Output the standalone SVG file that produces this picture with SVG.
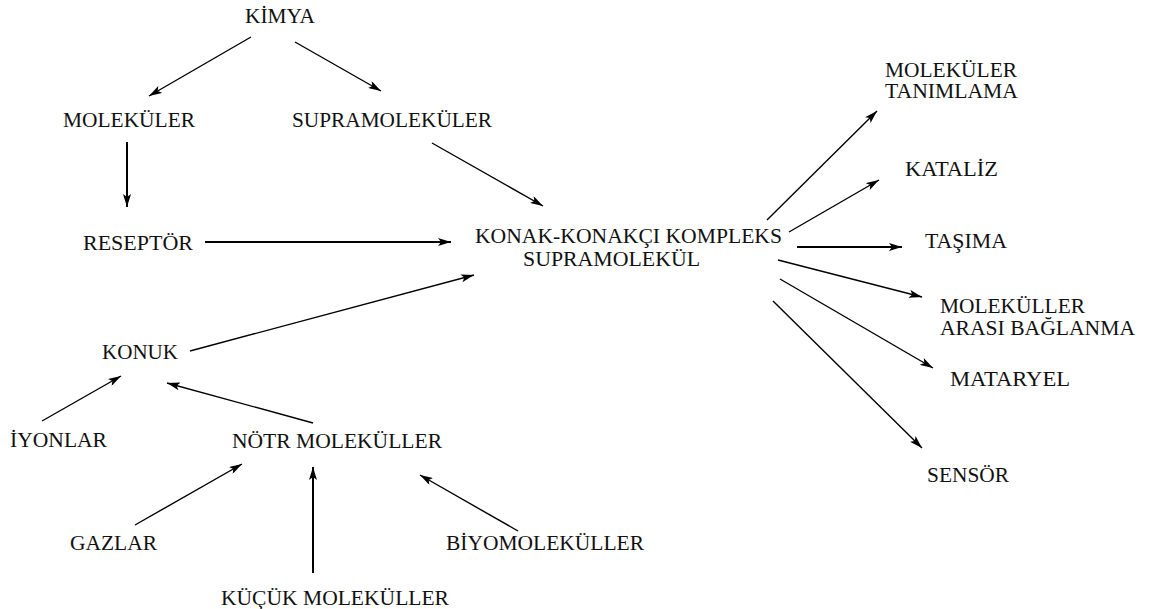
<svg xmlns="http://www.w3.org/2000/svg" width="1161" height="609" viewBox="0 0 1161 609">
<style>
text{font-family:"Liberation Serif","Times New Roman",serif;font-size:20.5px;fill:#111}
.c line{stroke:#000;stroke-width:1.4;fill:none;marker-end:url(#ah)}
.c line.t{stroke-width:2}
</style>
<defs>
<marker id="ah" markerUnits="userSpaceOnUse" markerWidth="14" markerHeight="8" refX="13" refY="4" orient="auto">
<path d="M0,0 L13,4 L0,8 L3,4 Z" fill="#000"/>
</marker>
</defs>
<rect width="1161" height="609" fill="#fff"/>
<g id="kimya"><text x="245" y="23" textLength="70" lengthAdjust="spacingAndGlyphs">KİMYA</text></g>
<g id="molekuler"><text x="63" y="127" textLength="132" lengthAdjust="spacingAndGlyphs">MOLEKÜLER</text></g>
<g id="supramolekuler"><text x="292" y="127" textLength="200" lengthAdjust="spacingAndGlyphs">SUPRAMOLEKÜLER</text></g>
<g id="reseptor"><text x="83" y="250" textLength="110" lengthAdjust="spacingAndGlyphs">RESEPTÖR</text></g>
<g id="kompleks"><text><tspan x="475" y="243" textLength="307" lengthAdjust="spacingAndGlyphs">KONAK-KONAKÇI KOMPLEKS</tspan><tspan x="523" y="266" textLength="177" lengthAdjust="spacingAndGlyphs">SUPRAMOLEKÜL</tspan></text></g>
<g id="tanimlama"><text><tspan x="885" y="77" textLength="132" lengthAdjust="spacingAndGlyphs">MOLEKÜLER</tspan><tspan x="885" y="98" textLength="133" lengthAdjust="spacingAndGlyphs">TANIMLAMA</tspan></text></g>
<g id="kataliz"><text x="905" y="176" textLength="93" lengthAdjust="spacingAndGlyphs">KATALİZ</text></g>
<g id="tasima"><text x="925" y="248" textLength="82" lengthAdjust="spacingAndGlyphs">TAŞIMA</text></g>
<g id="baglanma"><text><tspan x="940" y="313" textLength="145" lengthAdjust="spacingAndGlyphs">MOLEKÜLLER</tspan><tspan x="940" y="335" textLength="195" lengthAdjust="spacingAndGlyphs">ARASI BAĞLANMA</tspan></text></g>
<g id="materyel"><text x="950" y="386" textLength="120" lengthAdjust="spacingAndGlyphs">MATARYEL</text></g>
<g id="sensor"><text x="927" y="482" textLength="82" lengthAdjust="spacingAndGlyphs">SENSÖR</text></g>
<g id="konuk"><text x="102" y="359" textLength="76" lengthAdjust="spacingAndGlyphs">KONUK</text></g>
<g id="iyonlar"><text x="10" y="447" textLength="97" lengthAdjust="spacingAndGlyphs">İYONLAR</text></g>
<g id="notr"><text x="232" y="448" textLength="210" lengthAdjust="spacingAndGlyphs">NÖTR MOLEKÜLLER</text></g>
<g id="gazlar"><text x="70" y="550" textLength="87" lengthAdjust="spacingAndGlyphs">GAZLAR</text></g>
<g id="kucuk"><text x="221" y="605" textLength="228" lengthAdjust="spacingAndGlyphs">KÜÇÜK MOLEKÜLLER</text></g>
<g id="biyo"><text x="446" y="550" textLength="198" lengthAdjust="spacingAndGlyphs">BİYOMOLEKÜLLER</text></g>
<g id="connectors" class="c">
<line x1="251" y1="37" x2="149" y2="96"/>
<line x1="295" y1="42" x2="381" y2="91"/>
<line class="t" x1="127" y1="142" x2="127" y2="207"/>
<line x1="432" y1="143" x2="543" y2="206"/>
<line class="t" x1="205" y1="242" x2="451" y2="242"/>
<line x1="190" y1="351" x2="474" y2="275"/>
<line x1="767" y1="220" x2="877" y2="111"/>
<line x1="789" y1="232" x2="879" y2="180"/>
<line class="t" x1="797" y1="247" x2="902" y2="247"/>
<line x1="778" y1="260" x2="922" y2="297"/>
<line x1="780" y1="279" x2="933" y2="368"/>
<line x1="773" y1="301" x2="922" y2="448"/>
<line x1="42" y1="421" x2="121" y2="376"/>
<line x1="313" y1="423" x2="167" y2="383"/>
<line x1="135" y1="525" x2="242" y2="464"/>
<line class="t" x1="313" y1="573" x2="313" y2="467"/>
<line x1="518" y1="531" x2="420" y2="475"/>
</g>
</svg>
